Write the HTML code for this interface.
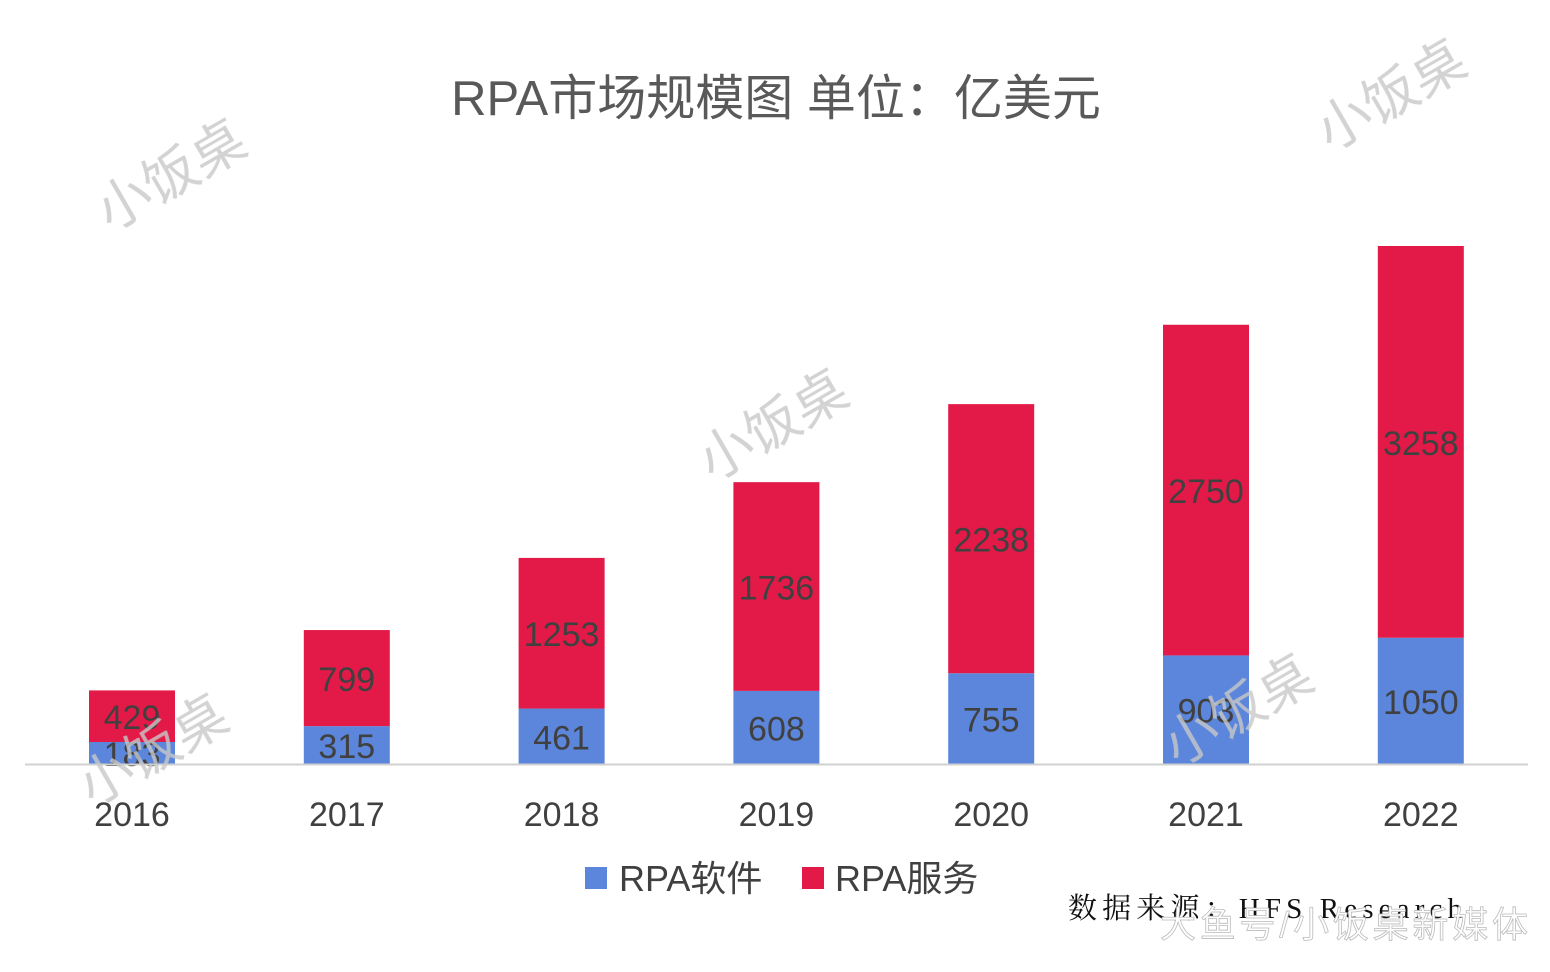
<!DOCTYPE html>
<html><head><meta charset="utf-8"><style>
body{margin:0;background:#fff;}
svg text{font-family:"Liberation Sans","Noto Sans CJK SC",sans-serif;}
</style></head><body>
<svg width="1550" height="967" viewBox="0 0 1550 967">
<text x="776" y="115" text-anchor="middle" font-size="49" fill="#595959">RPA市场规模图 单位：亿美元</text>
<g id="bars"></g>
<line x1="25" y1="764.5" x2="1528" y2="764.5" stroke="#d0d0d0" stroke-width="2"/>
<g id="xlabels"></g>
<g>
<rect x="585" y="867" width="22" height="22" fill="#5B86DB"/>
<text x="619" y="891" font-size="36" fill="#404040">RPA软件</text>
<rect x="802" y="867" width="22" height="22" fill="#E31A47"/>
<text x="835" y="891" font-size="36" fill="#404040">RPA服务</text>
</g>
<text x="1068" y="918" font-size="29" fill="#111" textLength="394" style="font-family:'Liberation Serif','Noto Serif CJK SC',serif">数据来源：HFS Research</text>
<g fill="#c8c8c8" font-size="54" opacity="0.8">
<text transform="translate(110,232) rotate(-30)">小饭桌</text>
<text transform="translate(1330,152) rotate(-30)">小饭桌</text>
<text transform="translate(712,482) rotate(-30)">小饭桌</text>
<text transform="translate(92,807) rotate(-30)">小饭桌</text>
<text transform="translate(1177,767) rotate(-30)">小饭桌</text>
</g>
<text x="1160" y="937" font-size="36" fill="#fff" stroke="#bbb" stroke-width="0.8" textLength="368">大鱼号/小饭桌新媒体</text>
<script>
const categories=["2016","2017","2018","2019","2020","2021","2022"];
const software=[183,315,461,608,755,903,1050];
const service=[429,799,1253,1736,2238,2750,3258];
const NS="http://www.w3.org/2000/svg";
const base=764, scale=518/4308, x0=132, step=214.8, bw=86;
const yv=v=>base-v*scale;
const xc=i=>x0+i*step;
const bars=document.getElementById('bars');
const xl=document.getElementById('xlabels');
function rect(x,y,w,h,fill,name){const r=document.createElementNS(NS,'rect');r.setAttribute('x',x);r.setAttribute('y',y);r.setAttribute('width',w);r.setAttribute('height',h);r.setAttribute('fill',fill);


bars.appendChild(r);}
function txt(p,x,y,s,name){const t=document.createElementNS(NS,'text');t.setAttribute('x',x);t.setAttribute('y',y);t.setAttribute('text-anchor','middle');t.setAttribute('font-size','34');t.setAttribute('fill','#404040');t.textContent=s;


p.appendChild(t);}
categories.forEach((c,i)=>{
 const x=xc(i)-bw/2;
 const ys=yv(software[i]), yt=yv(software[i]+service[i]);
 rect(x,ys,bw,base-ys,'#5B86DB','bar-software-'+c);
 rect(x,yt,bw,ys-yt,'#E31A47','bar-service-'+c);
 txt(bars,xc(i),(ys+base)/2+13,software[i],'value-software-'+c);
 txt(bars,xc(i),(yt+ys)/2+13,service[i],'value-service-'+c);
 txt(xl,xc(i),826,c,'x-label-'+c);
});
</script>
</svg>
</body></html>
